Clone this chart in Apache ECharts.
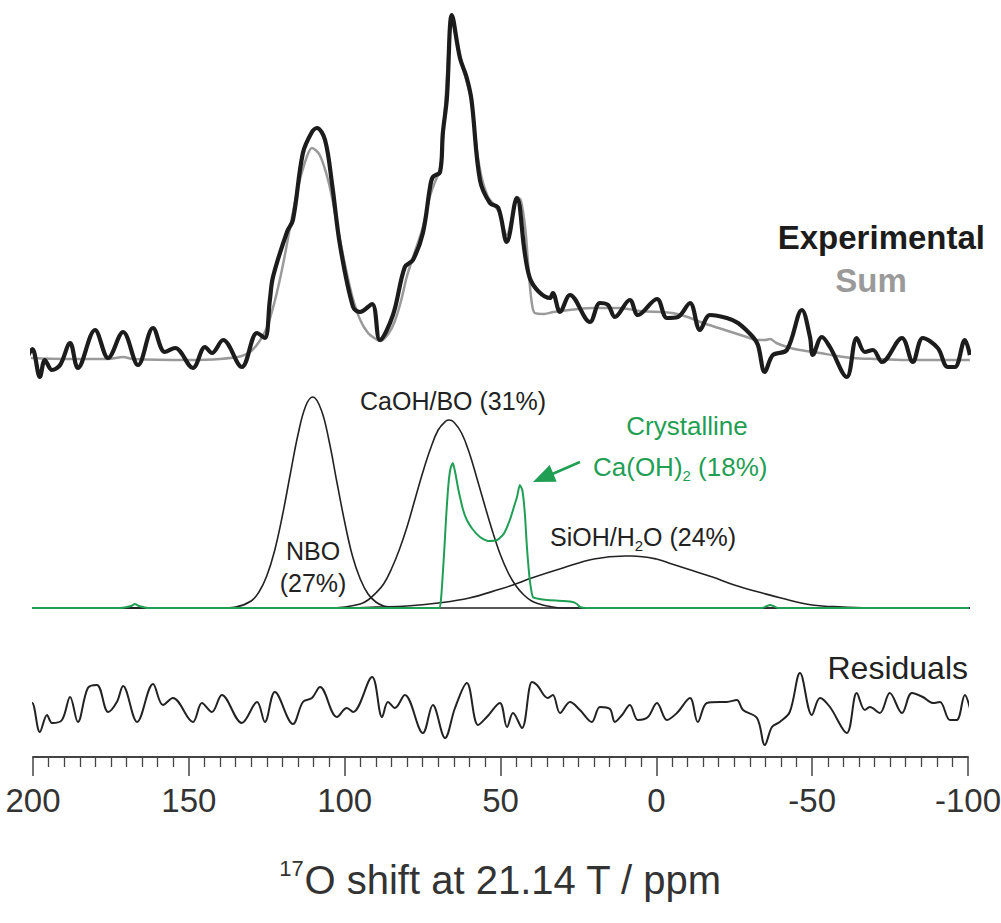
<!DOCTYPE html>
<html>
<head>
<meta charset="utf-8">
<script src="https://cdn.jsdelivr.net/npm/echarts@6/dist/echarts.min.js"></script>
<style>
html,body{margin:0;padding:0;background:#fff;}
#chart{width:1001px;height:923px;}
</style>
</head>
<body>
<div id="chart"></div>
<script>
// ---- data (chemical shift in ppm, intensity in arbitrary units) ----
const xTicks = [200, 150, 100, 50, 0, -50, -100];

const experimental = [
[201.5,5],[200.2,11],[197.8,-17],[196.2,0],[193.9,-10],[191.3,-5],[188.1,17],[185.6,-8],[180.1,30],[175.9,2],
[171.1,28],[166.3,-5],[161.5,32],[157.7,8],[154.4,12],[148.7,-8],[144.8,13],[142.6,7],[139.0,20],[133.0,-7],
[128.1,27],[125.6,22],[124.0,60],[123.0,83],[118.5,128],[116.6,140],[113.4,207],[110.5,228],[108.9,232],[106.3,220],
[104.0,175],[101.5,115],[97.3,53],[95.1,48],[91.2,56],[88.7,20],[84.5,45],[80.7,93],[78.1,100],[74.9,127],
[72.6,173],[71.7,183],[69.4,188],[68.5,227],[67.2,262],[65.6,345],[63.0,302],[60.9,283],[59.3,260],[56.6,180],
[53.4,157],[50.7,152],[48.0,118],[44.8,162],[40.6,82],[34.1,62],[33.2,67],[30.9,48],[27.7,65],[21.3,38],
[18.1,57],[15.5,55],[13.3,43],[8.5,60],[5.9,45],[-0.2,61],[-3.4,42],[-6.9,43],[-10.8,57],[-14.0,30],
[-17.2,45],[-22.6,42],[-26.2,37],[-31.0,23],[-32.6,15],[-34.8,-12],[-37.4,5],[-41.9,10],[-46.7,50],[-49.3,23],
[-50.2,5],[-53.1,23],[-55.7,13],[-61.1,-17],[-64.3,22],[-66.9,8],[-69.5,10],[-72.4,-2],[-78.8,22],[-82.3,-2],
[-85.5,22],[-90.3,12],[-93.5,-7],[-95.8,-7],[-99.0,20],[-100.6,5]
];

const sumFit = [
[201.5,2],[190,1],[176,1],[171,3],[168,1],[150,0],[140,1],[133,4],[130,9],[127.5,18],
[125,32],[122.5,58],[120,92],[117.5,133],[115,172],[112.5,200],[110.5,212],[108,205],[105,176],[102.5,136],
[100,97],[97.5,63],[95,40],[92.5,27],[90,21],[88.5,19],[86,26],[84,38],[82,58],[80,84],
[77.5,108],[75,132],[72.5,165],[70.5,182],[69.4,190],[68.5,218],[67.5,268],[66.5,318],[65.6,340],[64.5,325],
[63,302],[61,280],[59.3,258],[57.5,208],[56,182],[54,163],[52,155],[50.5,148],[48,125],[46.5,140],
[45.5,155],[44.8,163],[43.5,160],[42,130],[41,90],[40,58],[39,47],[36,46],[33,48],[28,50],
[20,52],[12,52],[5,49],[-5,47],[-10,43],[-15,37],[-20,32],[-25,27],[-29,23],[-32,20],
[-35,20],[-36.5,21],[-38.5,17],[-42,13],[-46,10],[-52.5,7],[-58,4],[-63,2],[-70,1],[-80,0],[-100.6,0]
];

const nbo = [
[201.5,0],[160,0],[145,0],[140,0],[135,1],[130,7],[127.5,16],[125,32],[122.5,57],[120,92],
[117.5,133],[115,173],[112.5,202],[110.2,211],[107.5,198],[105,167],[102.5,126],[100,86],[97.5,52],[95,29],
[92.5,14],[90,6],[87.5,2],[85,1],[80,0],[60,0],[-100.6,0]
];

const caohBo = [
[201.5,0],[150,0],[110,0],[105,0],[100,1],[95,4],[92.5,8],[90,15],[87.5,24],[85,39],
[82.5,58],[80,81],[77.5,108],[75,135],[72.5,159],[70,178],[67.5,187],[66.5,188],[65,186],[62.5,175],
[60,155],[57.5,129],[55,102],[52.5,76],[50,53],[47.5,35],[45,22],[42.5,13],[40,7],[37.5,4],
[35,2],[30,0],[25,0],[0,0],[-100.6,0]
];

const siohH2o = [
[201.5,0],[150,0],[110,0],[100,0],[90,1],[80,2],[70,5],[60,10],[50,19],[46,23],
[40,30],[30,40],[20,49],[10,52],[8,52],[0,49],[-5,44],[-10,39],[-18,31],[-25,23],
[-34,15],[-40,10],[-50,3],[-60,1],[-70,0],[-80,0],[-100.6,0]
];

const caOH2 = [
[201.5,0],[172,0],[168.5,2],[167.3,4],[166,2],[163,0],[120,0],[70,0],[69.5,0],[69,12],
[68.5,35],[68,60],[67.5,88],[67,112],[66.5,130],[66,140],[65.3,145],[64.5,135],[63.5,118],[63,111],
[62,98],[60.8,88],[59,79],[56.6,71],[54,67],[51.1,68],[49,74],[47,88],[45.5,103],[44.7,111],
[43.8,123],[43,118],[42.2,95],[41.5,60],[40.6,28],[39.6,11],[37.5,9],[35.1,8],[30,7],[26.8,6],
[25.5,4],[24.5,1],[22.3,0],[0,0],[-34,0],[-35.5,2],[-36.5,3],[-37.5,2],[-39,0],[-60,0],[-100.6,0]
];

const residuals = [
[201.6,0],[200.3,7],[197.8,-22],[195.5,-5],[193.9,-13],[190.7,-10],[188.1,13],[185.6,-12],[182.4,22],[179.5,25],
[175.9,-2],[173.1,8],[171.1,24],[166.6,-12],[161.5,26],[158.3,5],[155.1,12],[148.7,-12],[145.8,7],[142.6,-2],
[139.4,15],[133.0,-13],[128.1,8],[125.6,-12],[122.4,18],[116.6,-14],[113.4,8],[110.5,12],[107.9,23],[102.5,-7],
[99.3,2],[97.3,-2],[91.2,33],[88.0,-7],[86.1,8],[83.9,2],[80.7,15],[74.9,-23],[71.7,5],[67.8,-28],
[64.6,2],[60.8,27],[57.2,-15],[54.4,-7],[50.2,7],[47.9,-17],[46.0,-3],[43.1,-18],[39.9,28],[38.3,25],
[34.8,12],[33.2,15],[30.9,-3],[27.7,8],[24.5,0],[20.7,-12],[18.1,3],[14.9,1],[13.3,-12],[11.0,-5],
[8.5,5],[5.9,-10],[2.7,-7],[-0.2,7],[-3.4,-10],[-6.6,-3],[-10.8,12],[-13.3,-12],[-16.2,7],[-20.4,8],
[-22.6,8],[-25.8,10],[-27.8,0],[-32.3,-8],[-34.8,-35],[-37.1,-17],[-39.6,-12],[-42.8,-2],[-46.1,37],[-49.9,-5],
[-52.5,12],[-55.7,3],[-61.1,-23],[-64.3,17],[-66.9,0],[-68.5,3],[-71.7,-3],[-74.9,17],[-78.8,-3],[-82.0,17],
[-85.5,13],[-88.7,7],[-91.0,8],[-94.2,-10],[-96.4,-10],[-99.0,15],[-100.6,2]
];

// ---- chart ----
const GREEN = '#1f9e54';
const FONT = '"Liberation Sans", Arial, Helvetica, sans-serif';
const chart = echarts.init(document.getElementById('chart'), null, {renderer: 'svg'});

const xMin = Math.min(...xTicks), xMax = Math.max(...xTicks);
const xInterval = xTicks[0] - xTicks[1];

function hiddenX(i){
  return {type:'value', gridIndex:i, min:xMin, max:xMax, interval:xInterval, inverse:true, show:false};
}
const gridBase = {left:33, right:33, containLabel:false, outerBoundsMode:'none'};

const option = {
  backgroundColor: '#fff',
  animation: false,
  grid: [
    Object.assign({top:10, height:370}, gridBase),
    Object.assign({top:378, height:250}, gridBase),
    Object.assign({top:662, height:95}, gridBase)
  ],
  xAxis: [
    hiddenX(0),
    hiddenX(1),
    {
      type:'value', gridIndex:2, min:xMin, max:xMax, interval:xInterval, inverse:true,
      axisLine:{show:true, onZero:false, lineStyle:{color:'#444', width:2}},
      axisTick:{show:true, length:19, lineStyle:{color:'#444', width:1.5}},
      minorTick:{show:true, splitNumber:10, length:10, lineStyle:{color:'#444', width:1.3}},
      splitLine:{show:false},
      axisLabel:{margin:27, fontSize:33, color:'#333', fontFamily:FONT},
      name:'{sup|17}O shift at 21.14 T / ppm',
      nameLocation:'middle', nameGap:100,
      nameTextStyle:{fontSize:40, color:'#333', fontFamily:FONT, lineHeight:46,
        rich:{sup:{fontSize:22, lineHeight:22, verticalAlign:'top', color:'#333', fontFamily:FONT}}}
    }
  ],
  yAxis: [
    {type:'value', gridIndex:0, min:-20, max:350, show:false},
    {type:'value', gridIndex:1, min:-20, max:230, show:false},
    {type:'value', gridIndex:2, min:-47, max:48, show:false}
  ],
  series: [
    {name:'Sum', type:'line', xAxisIndex:0, yAxisIndex:0, data:sumFit, showSymbol:false, smooth:0.3, clip:false,
     lineStyle:{color:'#9a9a9a', width:2.5}},
    {name:'Experimental', type:'line', xAxisIndex:0, yAxisIndex:0, data:experimental, showSymbol:false, smooth:0.35, clip:false,
     lineStyle:{color:'#1c1c1c', width:4.2}},
    {name:'NBO', type:'line', xAxisIndex:1, yAxisIndex:1, data:nbo, showSymbol:false, smooth:0.4, clip:false,
     lineStyle:{color:'#222', width:1.6}},
    {name:'CaOH/BO', type:'line', xAxisIndex:1, yAxisIndex:1, data:caohBo, showSymbol:false, smooth:0.4, clip:false,
     lineStyle:{color:'#222', width:1.6}},
    {name:'SiOH/H2O', type:'line', xAxisIndex:1, yAxisIndex:1, data:siohH2o, showSymbol:false, smooth:0.4, clip:false,
     lineStyle:{color:'#222', width:1.6}},
    {name:'Ca(OH)2', type:'line', xAxisIndex:1, yAxisIndex:1, data:caOH2, showSymbol:false, smooth:0.2, clip:false,
     lineStyle:{color:GREEN, width:2}},
    {name:'Residuals', type:'line', xAxisIndex:2, yAxisIndex:2, data:residuals, showSymbol:false, smooth:0.35, clip:false,
     lineStyle:{color:'#222', width:2}}
  ],
  graphic: [
    {type:'text', x:985, y:237, style:{text:'Experimental', fill:'#1c1c1c', fontSize:33, fontWeight:'bold', fontFamily:FONT, align:'right', verticalAlign:'middle'}},
    {type:'text', x:871, y:280, style:{text:'Sum', fill:'#9a9a9a', fontSize:33, fontWeight:'bold', fontFamily:FONT, align:'center', verticalAlign:'middle'}},
    {type:'text', x:360, y:401, style:{text:'CaOH/BO (31%)', fill:'#222', fontSize:25, fontFamily:FONT, align:'left', verticalAlign:'middle'}},
    {type:'text', x:313, y:551, style:{text:'NBO', fill:'#222', fontSize:25, fontFamily:FONT, align:'center', verticalAlign:'middle'}},
    {type:'text', x:313, y:583, style:{text:'(27%)', fill:'#222', fontSize:25, fontFamily:FONT, align:'center', verticalAlign:'middle'}},
    {type:'text', x:687, y:426, style:{text:'Crystalline', fill:GREEN, fontSize:26, fontFamily:FONT, align:'center', verticalAlign:'middle'}},
    {type:'text', x:593, y:467, style:{text:'Ca(OH){s|2} (18%)', fill:GREEN, fontSize:26, lineHeight:32, fontFamily:FONT, align:'left', verticalAlign:'middle',
      rich:{s:{fontSize:15, lineHeight:16, verticalAlign:'bottom', fill:GREEN, fontFamily:FONT}}}},
    {type:'text', x:550, y:537, style:{text:'SiOH/H{s|2}O (24%)', fill:'#222', fontSize:25, lineHeight:32, fontFamily:FONT, align:'left', verticalAlign:'middle',
      rich:{s:{fontSize:15, lineHeight:16, verticalAlign:'bottom', fill:'#222', fontFamily:FONT}}}},
    {type:'text', x:968, y:668, style:{text:'Residuals', fill:'#222', fontSize:32, fontFamily:FONT, align:'right', verticalAlign:'middle'}},
    // arrow pointing at the Ca(OH)2 peak
    {type:'line', shape:{x1:580, y1:462, x2:550, y2:475}, style:{stroke:GREEN, lineWidth:2.5}},
    {type:'polygon', shape:{points:[[533,482],[549.7,465.1],[556.7,481.7]]}, style:{fill:GREEN}}
  ]
};
chart.setOption(option);
</script>
</body>
</html>
